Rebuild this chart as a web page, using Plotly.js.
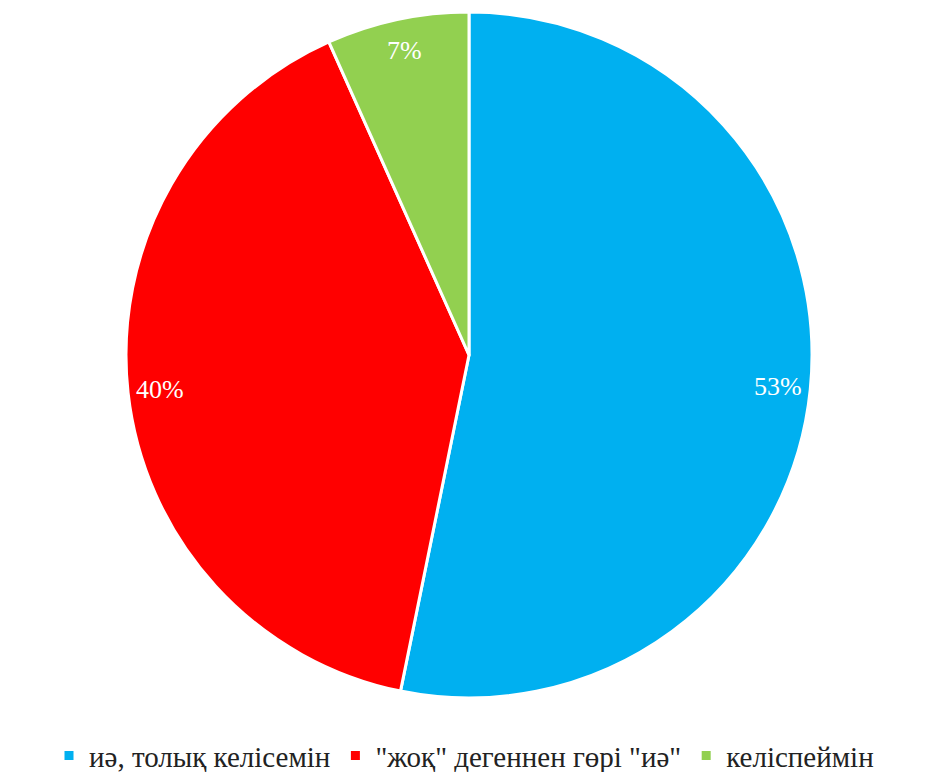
<!DOCTYPE html>
<html>
<head>
<meta charset="utf-8">
<script src="https://cdn.plot.ly/plotly-3.0.1.min.js"></script>
<style>
html,body{margin:0;padding:0;background:#fff;}
#chart{width:928px;height:772px;}
</style>
</head>
<body>
<div id="chart"></div>
<script>
const categories = ['иә, толық келісемін', '"жоқ" дегеннен гөрі "иә"', 'келіспеймін'];
const values = [53.2, 40.1, 6.7];
const colors = ['#00B0F0', '#FF0000', '#92D050'];

const W = 928, H = 772;
const cx = 469, cy = 355, r = 343;
const FONT = 'Liberation Serif, Times New Roman, serif';

const trace = {
  type: 'pie',
  labels: categories,
  values: values,
  sort: false,
  direction: 'clockwise',
  rotation: 0,
  marker: {colors: colors, line: {color: '#FFFFFF', width: 3}},
  textinfo: 'none',
  hoverinfo: 'label+percent',
  domain: {x: [(cx - r) / W, (cx + r) / W], y: [(H - cy - r) / H, (H - cy + r) / H]}
};

// percent labels placed near the outer edge of each slice (computed from the data)
const total = values.reduce((a, b) => a + b, 0);
let cum = 0;
const annotations = values.map(v => {
  const mid = (cum + v / 2) / total * 2 * Math.PI;
  cum += v;
  const rr = r - 32;
  const px = cx + rr * Math.sin(mid);
  const py = cy - rr * Math.cos(mid);
  return {
    x: px / W, y: 1 - py / H, xref: 'paper', yref: 'paper',
    xanchor: 'center', yanchor: 'middle', showarrow: false,
    text: Math.round(v / total * 100) + '%',
    font: {family: FONT, size: 26, color: '#FFFFFF'}
  };
});

const layout = {
  width: W, height: H,
  margin: {l: 0, r: 0, t: 0, b: 0, autoexpand: false},
  paper_bgcolor: '#FFFFFF',
  showlegend: true,
  annotations: annotations,
  font: {family: FONT},
  legend: {
    orientation: 'h', x: 0.5, xanchor: 'center', y: -0.012, yanchor: 'bottom',
    font: {family: FONT, size: 29, color: '#222222'},
    traceorder: 'normal'
  }
};

Plotly.newPlot('chart', [trace], layout, {displayModeBar: false});
</script>
</body>
</html>
